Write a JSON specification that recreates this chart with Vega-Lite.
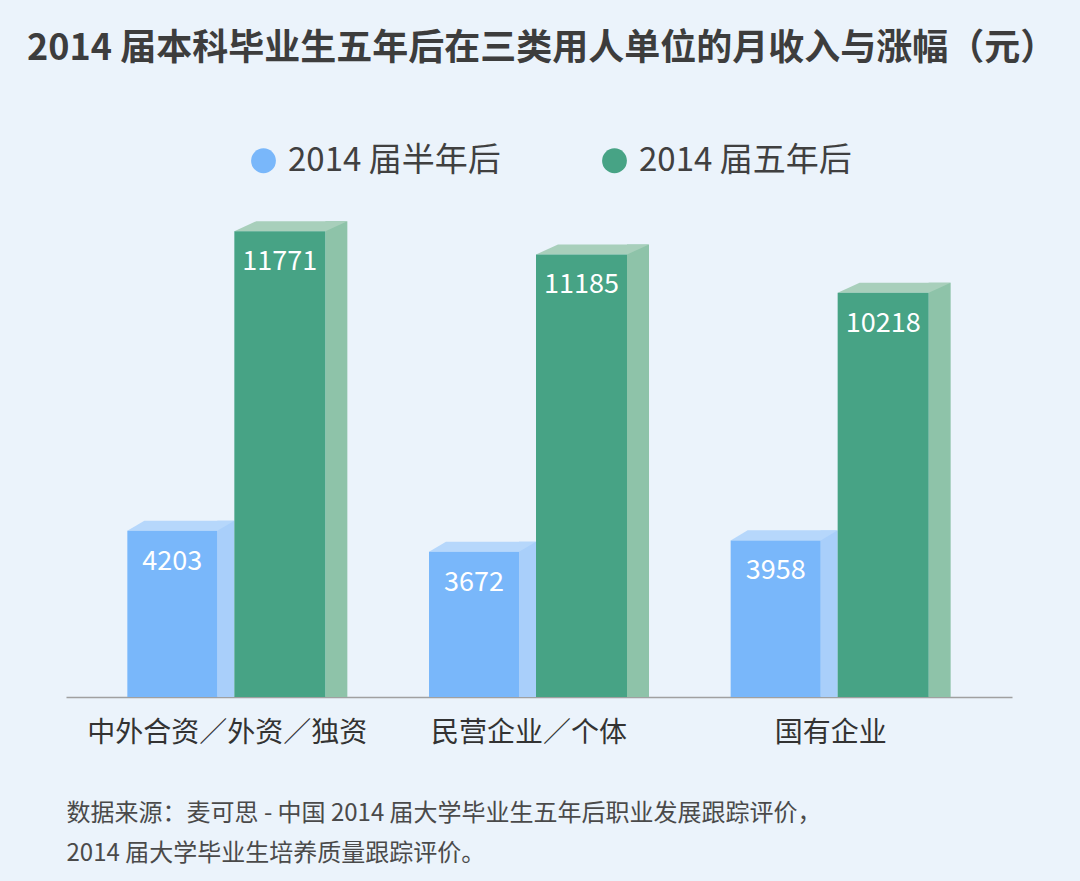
{
  "$schema": "https://vega.github.io/schema/vega-lite/v6.json",
  "width": 946,
  "height": 554,
  "autosize": {"type": "none"},
  "padding": {"left": 66, "top": 143, "right": 68, "bottom": 184},
  "background": "#ebf3fb",
  "config": {
    "view": {"stroke": null},
    "font": "Noto Sans CJK SC",
    "legend": {
      "orient": "none",
      "legendX": 181,
      "legendY": 1,
      "direction": "horizontal",
      "symbolType": "circle",
      "symbolSize": 615,
      "symbolStrokeWidth": 0,
      "labelFontSize": 33,
      "labelColor": "#404040",
      "labelOffset": 8,
      "labelLimit": 0,
      "columnPadding": 97,
      "title": null
    }
  },
  "title": {
    "text": "2014 届本科毕业生五年后在三类用人单位的月收入与涨幅（元）",
    "anchor": "start",
    "frame": "group",
    "fontSize": 36,
    "fontWeight": "bold",
    "color": "#3d3d3d",
    "dx": -39,
    "offset": 75
  },
  "data": {
    "values": [
      {"cat": "中外合资／外资／独资", "series": "2014 届半年后", "value": 4203},
      {"cat": "中外合资／外资／独资", "series": "2014 届五年后", "value": 11771},
      {"cat": "民营企业／个体", "series": "2014 届半年后", "value": 3672},
      {"cat": "民营企业／个体", "series": "2014 届五年后", "value": 11185},
      {"cat": "国有企业", "series": "2014 届半年后", "value": 3958},
      {"cat": "国有企业", "series": "2014 届五年后", "value": 10218}
    ]
  },
  "encoding": {
    "x": {
      "field": "cat",
      "type": "nominal",
      "sort": null,
      "scale": {"paddingInner": 0.3, "paddingOuter": 0.218},
      "axis": {
        "title": ["数据来源：麦可思 - 中国 2014 届大学毕业生五年后职业发展跟踪评价，", "2014 届大学毕业生培养质量跟踪评价。"],
        "titleFontSize": 24,
        "titleFontWeight": "normal",
        "titleColor": "#4a4a4a",
        "titleAnchor": "start",
        "titleAlign": "left",
        "titleBaseline": "top",
        "titleX": 0,
        "titleY": 104,
        "titleLineHeight": 40,
        "labelFontSize": 28,
        "labelColor": "#333333",
        "labelPadding": 22,
        "labelAngle": 0,
        "labelOffset": -10,
        "labelLimit": 0,
        "ticks": false,
        "domainColor": "#a0a0a0",
        "domainWidth": 1.5
      }
    },
    "y": {
      "field": "value",
      "type": "quantitative",
      "scale": {"domain": [0, 14000], "nice": false},
      "axis": null
    }
  },
  "layer": [
    {
      "transform": [{"filter": "datum.series === '2014 届半年后'"}],
      "mark": {"type": "bar", "width": 17, "xOffset": -11.5, "yOffset": -10, "color": "#a9cffa"},
      "encoding": {"y2": {"datum": 0}}
    },
    {
      "transform": [{"filter": "datum.series === '2014 届五年后'"}],
      "mark": {"type": "bar", "width": 22, "xOffset": 99, "yOffset": -10, "color": "#8ec3a9"},
      "encoding": {"y2": {"datum": 0}}
    },
    {
      "transform": [{"filter": "datum.series === '2014 届半年后'"}],
      "mark": {"type": "point", "filled": true, "opacity": 1, "strokeWidth": 0, "color": "#b6d7fb", "size": 11449, "xOffset": -56.5, "shape": "M-1,0L0.682,0L1,-0.187L-0.682,-0.187Z"}
    },
    {
      "transform": [{"filter": "datum.series === '2014 届五年后'"}],
      "mark": {"type": "point", "filled": true, "opacity": 1, "strokeWidth": 0, "color": "#a8cfbb", "size": 12769, "xOffset": 53.5, "shape": "M-1,0L0.611,0L1,-0.177L-0.611,-0.177Z"}
    },
    {
      "transform": [{"filter": "datum.series === '2014 届半年后'"}],
      "mark": {"type": "bar", "width": 90, "xOffset": -65},
      "encoding": {
        "color": {"field": "series", "type": "nominal", "sort": ["2014 届半年后", "2014 届五年后"], "scale": {"domain": ["2014 届半年后", "2014 届五年后"], "range": ["#79b7fa", "#47a385"]}}
      }
    },
    {
      "transform": [{"filter": "datum.series === '2014 届五年后'"}],
      "mark": {"type": "bar", "width": 91, "xOffset": 42.5},
      "encoding": {
        "color": {"field": "series", "type": "nominal", "sort": ["2014 届半年后", "2014 届五年后"], "scale": {"domain": ["2014 届半年后", "2014 届五年后"], "range": ["#79b7fa", "#47a385"]}}
      }
    },
    {
      "transform": [{"filter": "datum.series === '2014 届半年后'"}],
      "mark": {"type": "text", "xOffset": -65, "yOffset": 31, "baseline": "middle", "align": "center", "fontSize": 27, "color": "#ffffff"},
      "encoding": {"text": {"field": "value", "type": "quantitative", "format": "d"}}
    },
    {
      "transform": [{"filter": "datum.series === '2014 届五年后'"}],
      "mark": {"type": "text", "xOffset": 42.5, "yOffset": 31, "baseline": "middle", "align": "center", "fontSize": 27, "color": "#ffffff"},
      "encoding": {"text": {"field": "value", "type": "quantitative", "format": "d"}}
    }
  ]
}
